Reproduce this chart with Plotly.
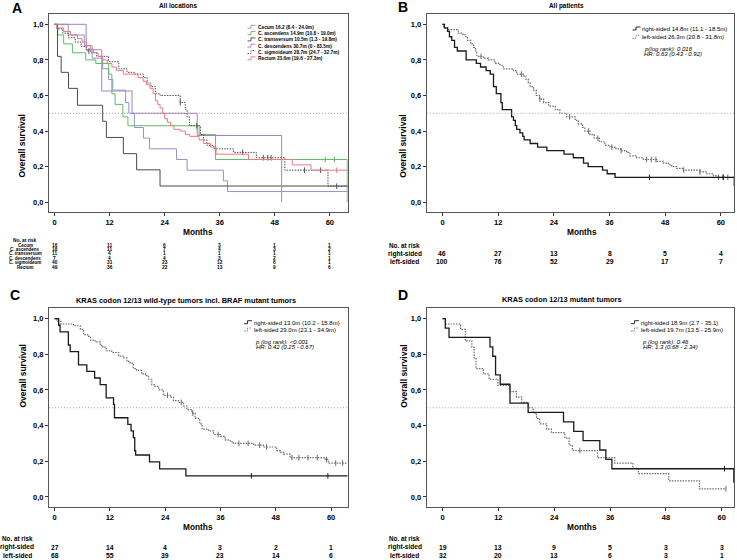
import numpy as np
import plotly.graph_objects as go

W, H = 737, 560

# ---------------- data ----------------
MONTH_TICKS = [0, 12, 24, 36, 48, 60]
SURV_TICKS = [0.0, 0.2, 0.4, 0.6, 0.8, 1.0]
SURV_LABELS = ['0,0', '0,2', '0,4', '0,6', '0,8', '1,0']

# panel A - all locations
cecum_t = [0, 3.0, 6.5, 8.2, 10.5, 11.8, 12.7, 15.5, 16.2, 17.4, 19.4, 20.7, 26.6, 28.9, 36.8, 37.7, 63.9]
cecum_s = [1.0, 0.94, 0.88, 0.81, 0.75, 0.69, 0.63, 0.56, 0.50, 0.42, 0.36, 0.30, 0.24, 0.18, 0.12, 0.06, 0.06]
asc_t = [0, 0.7, 2.0, 3.9, 6.8, 9.0, 11.8, 12.5, 13.2, 14.9, 16.0, 31.5, 35.1, 63.8]
asc_s = [1.0, 0.94, 0.89, 0.84, 0.80, 0.78, 0.72, 0.61, 0.55, 0.48, 0.43, 0.38, 0.24, 0.0]
asc_cens = [59.0, 61.0]
trans_t = [0, 0.65, 1.45, 3.05, 5.0, 10.5, 11.3, 15.0, 17.9, 23.0, 63.9]
trans_s = [1.0, 0.82, 0.73, 0.64, 0.545, 0.455, 0.364, 0.273, 0.182, 0.091, 0.091]
desc_t = [0, 6.9, 10.3, 16.9, 31.1, 49.5]
desc_s = [1.0, 0.857, 0.625, 0.5, 0.375, 0.0]
sig_t = [0, 0.5, 1.8, 3.0, 4.5, 5.8, 7.0, 8.0, 9.2, 11.8, 14.0, 15.8, 17.5, 19.4, 20.2, 21.0, 22.0, 23.0,
         27.4, 28.5, 28.9, 29.4, 31.8, 32.5, 33.2, 34.7, 39.0, 44.0, 50.2, 59.6, 63.9]
sig_s = [1.0, 0.975, 0.95, 0.925, 0.90, 0.875, 0.85, 0.84, 0.82, 0.79, 0.75, 0.73, 0.72, 0.70, 0.67, 0.65, 0.61, 0.60,
         0.56, 0.52, 0.48, 0.43, 0.38, 0.35, 0.32, 0.30, 0.28, 0.25, 0.18, 0.09, 0.09]
sig_cens = [7.5, 27.4, 31.0, 41.0, 45.5, 46.5, 47.2, 54.5, 58.0, 61.5]
rect_t = [0, 0.5, 2.0, 3.5, 5.0, 6.0, 7.0, 7.8, 8.5, 9.5, 10.5, 11.5, 12.5, 13.5, 15.0, 18.2, 19.3, 20.0, 20.8,
          21.5, 22.0, 22.5, 23.0, 23.6, 24.0, 24.6, 25.3, 26.0, 27.4, 28.5, 29.5, 31.5, 32.5, 34.0, 35.2, 42.3,
          51.8, 55.9, 63.9]
rect_s = [1.0, 0.98, 0.96, 0.94, 0.92, 0.90, 0.88, 0.86, 0.84, 0.82, 0.80, 0.78, 0.76, 0.74, 0.72, 0.70, 0.68, 0.66,
          0.64, 0.61, 0.57, 0.55, 0.53, 0.50, 0.47, 0.45, 0.43, 0.41, 0.40, 0.38, 0.37, 0.35, 0.33, 0.31, 0.27, 0.24,
          0.21, 0.18, 0.18]
rect_cens = [61.5]

a_names = ['Cecum 16.2 (8.4 - 24.0m)', 'C. ascendens 14.9m (10.8 - 19.0m)', 'C. transversum 10.5m (1.3 - 19.8m)',
           'C. descendens 30.7m (0 - 83.5m)', 'C. sigmoideum 28.7m (24.7 - 32.7m)', 'Rectum 23.6m (19.6 - 27.3m)']
a_risk_labels = ['Cecum', 'C. ascendens', 'C. transversum', 'C. descendens', 'C. sigmoideum', 'Rectum']
a_risk = [[16, 11, 6, 3, 1, 1],
          [18, 11, 7, 4, 3, 2],
          [11, 4, 1, 1, 1, 1],
          [7, 4, 4, 3, 2, 1],
          [40, 31, 23, 12, 6, 1],
          [49, 36, 22, 13, 9, 6]]

# panel B - all patients
b_right_t = [0, 0.4, 1.1, 1.5, 2.0, 2.6, 3.2, 5.1, 7.3, 8.2, 9.4, 10.3, 11.0, 11.6, 12.6, 12.9, 14.9, 15.3, 15.7,
             16.0, 16.7, 17.3, 17.6, 18.9, 20.5, 22.5, 26.2, 28.2, 30.4, 31.4, 34.5, 35.5, 37.2, 62.7, 62.9]
b_right_s = [1.0, 0.98, 0.96, 0.93, 0.91, 0.87, 0.85, 0.80, 0.78, 0.76, 0.74, 0.72, 0.65, 0.61, 0.56, 0.52, 0.48,
             0.46, 0.43, 0.41, 0.39, 0.37, 0.35, 0.33, 0.31, 0.29, 0.27, 0.25, 0.22, 0.20, 0.18, 0.16, 0.14, 0.14, 0.09]
b_right_cens = [44.6, 60.5]
b_left_t = [0, 0.3, 1.1, 3.4, 4.4, 5.0, 5.4, 6.1, 6.7, 7.1, 7.4, 8.8, 9.9, 11.3, 12.4, 13.1, 15.3, 16.0, 17.4, 18.0,
            18.5, 18.9, 19.6, 20.2, 20.9, 21.8, 22.9, 24.3, 25.3, 26.8, 28.6, 29.3, 30.2, 30.7, 31.8, 32.7, 33.8,
            35.0, 36.1, 37.4, 38.4, 39.7, 40.4, 41.9, 43.3, 46.2, 47.6, 48.7, 49.4, 50.5, 51.9, 55.5, 57.0, 58.4,
            59.1, 62.9]
b_left_s = [1.0, 0.98, 0.97, 0.95, 0.94, 0.93, 0.91, 0.89, 0.87, 0.85, 0.82, 0.81, 0.80, 0.78, 0.77, 0.75, 0.74,
            0.72, 0.71, 0.69, 0.67, 0.65, 0.63, 0.60, 0.58, 0.56, 0.54, 0.52, 0.50, 0.48, 0.46, 0.44, 0.42, 0.40,
            0.38, 0.36, 0.34, 0.32, 0.31, 0.30, 0.29, 0.28, 0.26, 0.25, 0.24, 0.23, 0.22, 0.21, 0.20, 0.19, 0.18,
            0.17, 0.16, 0.15, 0.14, 0.14]
b_left_cens = [8.3, 17.0, 21.0, 27.4, 31.5, 33.5, 36.5, 38.5, 44.0, 45.0, 46.0, 52.0, 55.5, 59.5, 60.5, 61.5]
b_risk = [[46, 27, 13, 8, 5, 4], [100, 76, 52, 29, 17, 7]]

# panel C - KRAS wild-type
c_right_t = [0, 0.9, 1.2, 3.0, 3.4, 5.2, 7.0, 8.7, 9.9, 11.2, 12.8, 13.0, 15.9, 16.6, 17.1, 17.4, 17.6, 20.6,
             22.8, 28.5, 63.6]
c_right_s = [1.0, 0.963, 0.926, 0.852, 0.815, 0.741, 0.704, 0.667, 0.630, 0.556, 0.519, 0.444, 0.407, 0.370,
             0.333, 0.259, 0.235, 0.196, 0.157, 0.118, 0.118]
c_right_cens = [42.7, 59.3]
c_left_t = [0, 0.5, 1.4, 4.1, 5.6, 6.3, 7.2, 7.8, 8.8, 9.9, 10.5, 11.2, 12.4, 13.9, 14.9, 15.7, 16.4, 17.1, 17.8,
            18.9, 19.7, 20.4, 21.1, 21.8, 22.6, 23.6, 25.1, 25.8, 26.9, 28.0, 28.7, 29.8, 30.5, 31.5, 32.0, 33.4,
            34.5, 36.0, 37.0, 38.1, 38.8, 43.2, 45.3, 48.2, 49.0, 49.7, 51.1, 58.7, 59.4, 63.6]
c_left_s = [1.0, 0.985, 0.97, 0.96, 0.94, 0.91, 0.90, 0.88, 0.87, 0.85, 0.84, 0.82, 0.81, 0.79, 0.78, 0.76, 0.75,
            0.72, 0.71, 0.69, 0.68, 0.66, 0.63, 0.62, 0.60, 0.57, 0.56, 0.54, 0.53, 0.51, 0.49, 0.47, 0.44, 0.41,
            0.38, 0.37, 0.35, 0.34, 0.32, 0.31, 0.30, 0.29, 0.28, 0.26, 0.25, 0.24, 0.22, 0.21, 0.19, 0.19]
c_left_cens = [24.5, 27.5, 30.0, 35.5, 40.0, 42.0, 44.5, 46.0, 51.5, 53.0, 55.0, 57.0, 59.0, 61.0, 62.5]
c_risk = [[27, 14, 4, 3, 2, 1], [68, 55, 39, 23, 14, 6]]

# panel D - KRAS mutant
d_right_t = [0, 0.6, 1.4, 10.2, 10.8, 11.4, 12.4, 14.5, 18.4, 26.0, 28.2, 30.2, 33.8, 35.1, 36.4, 62.6]
d_right_s = [1.0, 0.947, 0.895, 0.842, 0.789, 0.684, 0.632, 0.526, 0.474, 0.421, 0.368, 0.316, 0.263, 0.211,
             0.158, 0.08]
d_right_cens = [60.6]
d_left_t = [0, 0.6, 3.9, 4.9, 6.3, 6.8, 7.2, 8.8, 10.0, 11.9, 14.5, 15.9, 17.0, 18.4, 19.5, 20.2, 20.9, 22.4,
            23.4, 26.3, 27.2, 27.9, 33.3, 37.0, 40.9, 42.1, 48.6, 55.2, 60.9]
d_left_s = [1.0, 0.97, 0.94, 0.875, 0.84, 0.78, 0.72, 0.69, 0.66, 0.625, 0.59, 0.56, 0.53, 0.50, 0.47, 0.44,
            0.41, 0.38, 0.36, 0.33, 0.29, 0.26, 0.22, 0.19, 0.16, 0.13, 0.09, 0.045, 0.045]
d_left_cens = [29.5, 60.9]
d_risk = [[19, 13, 9, 5, 3, 3], [32, 20, 13, 6, 3, 1]]

side_labels = ['right-sided', 'left-sided']
b_names = ['right-sided 14.8m (11.1 - 18.5m)', 'left-sided 26.3m (20.8 - 31.8m)']
c_names = ['right-sided 13.0m (10.2 - 15.8m)', 'left-sided 29.0m (23.1 - 34.9m)']
d_names = ['right-sided 18.9m (2.7 - 35.1)', 'left-sided 19.7m (13.5 - 25.9m)']
b_stats = ['p(log rank): 0.016', 'HR: 0.63 (0.43 - 0.92)']
c_stats = ['p (log rank): <0.001', 'HR: 0.42 (0.25 - 0.67)']
d_stats = ['p (log rank): 0.46', 'HR: 1.3 (0.68 - 2.34)']

# ---------------- helpers ----------------
FONT = 'Liberation Sans, Arial, sans-serif'
fig = go.Figure()


def px(x):
    return x / W


def py(y):
    return 1 - y / H


def text(s, x, y, size, bold=True, xanchor='center', xref='paper', color='black', italic=False):
    fig.add_annotation(text=s, x=x if xref != 'paper' else px(x), y=py(y), xref=xref, yref='paper',
                       showarrow=False, xanchor=xanchor, yanchor='middle', borderpad=0,
                       font=dict(family=FONT, size=size, color=color,
                                 weight='bold' if bold else 'normal',
                                 style='italic' if italic else 'normal'))


def step_at(t, s, x):
    i = np.searchsorted(np.array(t), x, side='right') - 1
    return np.array(s)[i]


def km(t, s, color, dash, width, ax, cens=None):
    fig.add_trace(go.Scatter(x=t, y=s, mode='lines', line=dict(color=color, dash=dash, width=width, shape='hv'),
                             xaxis='x' + ax, yaxis='y' + ax, showlegend=False, hoverinfo='skip'))
    if cens:
        fig.add_trace(go.Scatter(x=cens, y=step_at(t, s, cens), mode='markers',
                                 marker=dict(symbol='line-ns', size=4, line=dict(color=color, width=1)),
                                 xaxis='x' + ax, yaxis='y' + ax, showlegend=False, hoverinfo='skip'))


def glyph(x, y, color, dash):
    # small step symbol used in the SPSS style legends
    fig.add_shape(type='path', xref='paper', yref='paper',
                  path=f'M {px(x)},{py(y + 1)} L {px(x + 3.5)},{py(y + 1)} L {px(x + 3.5)},{py(y - 2)} '
                       f'L {px(x + 8)},{py(y - 2)}',
                  line=dict(color=color, width=0.9, dash=dash))


FINE_DOT = '1.5px,1.2px'

# ---------------- axes ----------------
panels = {
    '': dict(xd=(49, 347.7), yd=(14, 212), xr=(-1.2, 63.9)),
    '2': dict(xd=(426.7, 734.3), yd=(14, 212), xr=(-3.4, 62.9)),
    '3': dict(xd=(49, 347.7), yd=(308.3, 506.7), xr=(-1.2, 63.6)),
    '4': dict(xd=(426.7, 734.3), yd=(308.3, 506.7), xr=(-3.4, 62.7)),
}
layout_axes = {}
for k, p in panels.items():
    common = dict(showline=True, linecolor='#555555', linewidth=1, mirror=True, ticks='outside', ticklen=3,
                  tickcolor='#333333', showgrid=False, zeroline=False,
                  tickfont=dict(family=FONT, size=7.5, color='black', weight='bold'))
    layout_axes['xaxis' + k] = dict(common, domain=[px(p['xd'][0]), px(p['xd'][1])], range=list(p['xr']),
                                    tickvals=MONTH_TICKS, anchor='y' + k)
    layout_axes['yaxis' + k] = dict(common, domain=[py(p['yd'][1]), py(p['yd'][0])], range=[-0.055, 1.058],
                                    tickvals=SURV_TICKS, ticktext=SURV_LABELS, anchor='x' + k)
    # median line
    fig.add_shape(type='line', xref=('x' + k) + ' domain', yref='y' + k, x0=0, x1=1, y0=0.5, y1=0.5,
                  line=dict(color='#8a8a8a', width=0.8, dash='1px,2px'))

# ---------------- curves ----------------
CECUM_C, ASC_C, TRANS_C, DESC_C, SIG_C, RECT_C = '#8e93cc', '#5dbb63', '#4a4a4a', '#a583bf', '#505050', '#e77a80'
km(cecum_t, cecum_s, CECUM_C, 'solid', 1, '')
km(asc_t, asc_s, ASC_C, 'solid', 1, '', asc_cens)
km(trans_t, trans_s, TRANS_C, 'solid', 1, '')
km(desc_t, desc_s, DESC_C, 'solid', 1, '')
km(sig_t, sig_s, SIG_C, FINE_DOT, 1, '', sig_cens)
km(rect_t, rect_s, RECT_C, 'solid', 1, '', rect_cens)

RIGHT_C, LEFT_C = '#1a1a1a', '#6a6a6a'
for ax, rt, rs, rc, lt, ls, lc in [('2', b_right_t, b_right_s, b_right_cens, b_left_t, b_left_s, b_left_cens),
                                   ('3', c_right_t, c_right_s, c_right_cens, c_left_t, c_left_s, c_left_cens),
                                   ('4', d_right_t, d_right_s, d_right_cens, d_left_t, d_left_s, d_left_cens)]:
    km(lt, ls, LEFT_C, FINE_DOT, 1.2, ax, lc)
    km(rt, rs, RIGHT_C, 'solid', 1.3, ax, rc)

# ---------------- text ----------------
text('A', 16.7, 8.5, 14)
text('B', 403, 7, 14)
text('C', 15, 295, 14)
text('D', 403, 295, 14)
text('All locations', 178, 5.7, 6.4)
text('All patients', 566.7, 5.7, 6.4)
text('KRAS codon 12/13 wild-type tumors incl. BRAF mutant tumors', 186, 300, 7.4)
text('KRAS codon 12/13 mutant tumors', 562, 299.5, 7.4)

for xm, ym in [(198, 232.3), (582, 231.7), (198, 527.3), (582, 527.3)]:
    text('Months', xm, ym, 8.3)
for xo, yo in [(15, 113), (403.3, 113), (15, 410), (403.3, 410)]:
    fig.add_annotation(text='Overall survival', x=px(xo), y=py(yo), xref='paper', yref='paper', showarrow=False,
                       textangle=-90, font=dict(family=FONT, size=8.5, color='black', weight='bold'))

# legend A
a_colors = [CECUM_C, ASC_C, TRANS_C, DESC_C, SIG_C, RECT_C]
a_dash = ['solid', 'solid', 'solid', 'solid', FINE_DOT, 'solid']
for i, name in enumerate(a_names):
    yy = 27.3 + 6.3 * i
    glyph(247.5, yy, a_colors[i], a_dash[i])
    text(name, 256.5, yy, 4.8, xanchor='left')

# legends B, C, D
for names, stats, gx, ty in [(b_names, b_stats, 632.5, (29, 37.3)),
                             (c_names, c_stats, 244, (322.7, 330)),
                             (d_names, d_stats, 631, (322.7, 330))]:
    glyph(gx, ty[0], RIGHT_C, 'solid')
    glyph(gx, ty[1], LEFT_C, FINE_DOT)
    text(names[0], gx + 8.5, ty[0], 6, bold=False, xanchor='left')
    text(names[1], gx + 8.5, ty[1], 6, bold=False, xanchor='left')
    text(stats[0], gx + 10, ty[1] + 11.5, 6, bold=False, xanchor='left', italic=True)
    text(stats[1], gx + 10.5, ty[1] + 17.2, 6, bold=False, xanchor='left', italic=True)

# risk tables
text('No. at risk', 25, 240.5, 4.8)
for i, lab in enumerate(a_risk_labels):
    yy = 245 + 4.4 * i
    text(lab, 25, yy, 4.5)
    for m, n in zip(MONTH_TICKS, a_risk[i]):
        text(str(n), m, yy, 4.8, xref='x')

for ax, risk, lx, y0 in [('x2', b_risk, 404.5, 245), ('x3', c_risk, 17, 538.3), ('x4', d_risk, 404.5, 538.3)]:
    text('No. at risk', lx, y0, 6.3)
    for j, lab in enumerate(side_labels):
        yy = y0 + 8.7 + 8.2 * j
        text(lab, lx, yy, 6.6)
        for m, n in zip(MONTH_TICKS, risk[j]):
            text(str(n), m, yy, 6.8, xref=ax)

fig.update_layout(width=W, height=H, margin=dict(l=0, r=0, t=0, b=0), plot_bgcolor='white',
                  paper_bgcolor='white', showlegend=False, **layout_axes)

# page body has a default 8px margin; remove it so the figure fills the window
fig.write_html('out.html', config={'displayModeBar': False},
               post_script="document.body.style.margin='0';document.body.style.overflow='hidden';")
